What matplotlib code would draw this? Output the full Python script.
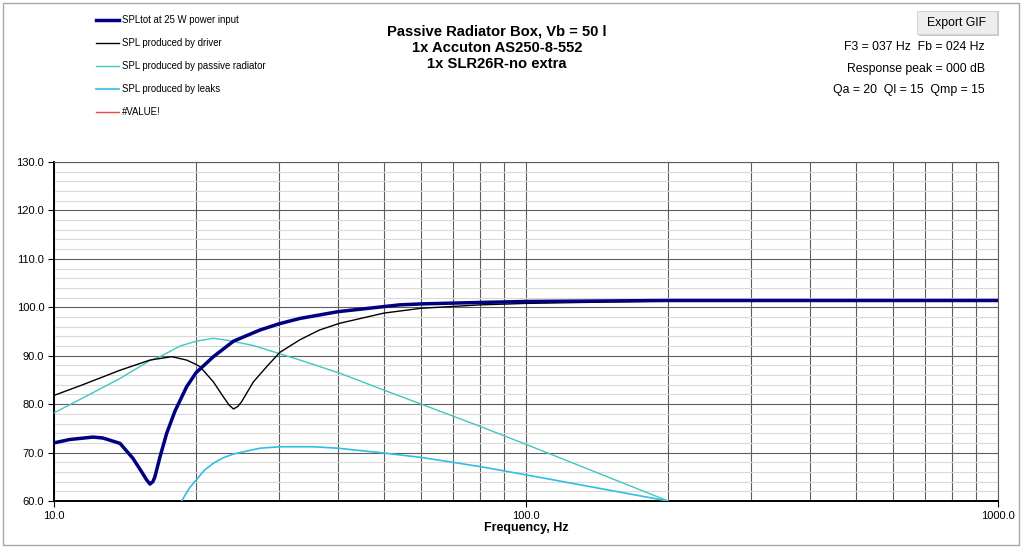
import numpy as np
import matplotlib
matplotlib.use("Agg")
import matplotlib.pyplot as plt
from matplotlib.lines import Line2D
from matplotlib.patches import Rectangle
from matplotlib.ticker import FixedLocator, MultipleLocator, NullFormatter, FormatStrFormatter

plt.rcParams['font.family'] = ['Liberation Sans', 'DejaVu Sans']

# SPL curves (frequency in Hz, level in dB)
tot_f = [10, 10.8, 12.1, 12.7, 13.8, 14.7, 15.34, 15.7, 15.97, 16.2, 16.36, 16.77, 17.33,
         18.05, 19.1, 20, 21.76, 24, 27.3, 30, 33.2, 40, 54, 60, 80, 100, 200, 500, 1000]
tot_db = [72.0, 72.7, 73.2, 73.0, 71.9, 68.8, 66.0, 64.4, 63.5, 64.0, 65.0, 69.1, 74.0,
          78.6, 83.6, 86.5, 89.8, 93.0, 95.3, 96.6, 97.7, 99.1, 100.5, 100.7, 101.0, 101.2,
          101.4, 101.4, 101.4]

drv_f = [10, 11.5, 13.8, 15.97, 17.75, 19.1, 20, 20.4, 21.76, 22.85, 23.5, 24.0, 24.5,
         24.97, 26.45, 28.2, 30.1, 33.2, 36.5, 40.3, 50, 60, 80, 100, 200, 500, 1000]
drv_db = [81.8, 84.0, 87.0, 89.1, 89.8, 89.1, 88.2, 87.7, 84.6, 81.5, 79.8, 79.0, 79.5,
          80.5, 84.6, 87.7, 90.7, 93.3, 95.3, 96.7, 98.8, 99.8, 100.5, 100.8, 101.3, 101.4,
          101.4]

pr_f = [10, 12, 13.8, 15.97, 16.77, 18.5, 20, 21.76, 23.6, 26.45, 30.1, 33.2, 40.3, 50,
        60, 80, 100, 200]
pr_db = [78.2, 82.2, 85.3, 89.0, 89.8, 92.0, 93.0, 93.6, 93.1, 92.1, 90.4, 89.1, 86.4, 82.9,
         80.0, 75.4, 71.7, 60.0]

leak_f = [18.65, 18.95, 19.4, 20, 20.8, 21.76, 22.8, 24, 27.3, 30.1, 35.5, 40, 50, 60, 80,
          100, 200]
leak_db = [60.0, 61.2, 62.8, 64.3, 66.3, 67.8, 68.9, 69.7, 70.9, 71.2, 71.2, 70.9, 69.9,
           69.0, 67.1, 65.4, 60.0]

labels = ["SPLtot at 25 W power input", "SPL produced by driver",
          "SPL produced by passive radiator", "SPL produced by leaks", "#VALUE!"]
colors = ["#000080", "#000000", "#3EC8C0", "#30BEE6", "#F04848"]
widths = [2.5, 1.0, 1.0, 1.2, 1.0]

title_lines = ["Passive Radiator Box, Vb = 50 l", "1x Accuton AS250-8-552", "1x SLR26R-no extra"]
info_lines = ["F3 = 037 Hz  Fb = 024 Hz", "Response peak = 000 dB", "Qa = 20  Ql = 15  Qmp = 15"]

W, H = 1024, 547


def fx(px):
    return px / W


def fy(py):
    return 1 - py / H


fig = plt.figure(figsize=(W / 100, H / 100), dpi=100)
ax = fig.add_axes([fx(54), fy(501), fx(998) - fx(54), fy(162) - fy(501)])

ax.plot(pr_f, pr_db, color=colors[2], lw=widths[2], zorder=3)
ax.plot(leak_f, leak_db, color=colors[3], lw=widths[3], zorder=3)
ax.plot(drv_f, drv_db, color=colors[1], lw=widths[1], zorder=4)
ax.plot(tot_f, tot_db, color=colors[0], lw=widths[0], zorder=5, solid_capstyle='round',
        solid_joinstyle='round')

ax.set_xscale('log')
ax.set_xlim(10, 1000)
ax.set_ylim(60, 130)
ax.xaxis.set_major_locator(FixedLocator([10, 100, 1000]))
ax.xaxis.set_minor_locator(FixedLocator([20, 30, 40, 50, 60, 70, 80, 90,
                                         200, 300, 400, 500, 600, 700, 800, 900]))
ax.xaxis.set_major_formatter(FormatStrFormatter('%.1f'))
ax.xaxis.set_minor_formatter(NullFormatter())
ax.yaxis.set_major_locator(MultipleLocator(10))
ax.yaxis.set_minor_locator(MultipleLocator(2))
ax.yaxis.set_major_formatter(FormatStrFormatter('%.1f'))

ax.grid(which='major', axis='both', color='#5E5E5E', lw=0.8)
ax.grid(which='minor', axis='x', color='#5E5E5E', lw=0.8)
ax.grid(which='minor', axis='y', color='#D9D9D9', lw=0.8)
ax.set_axisbelow(True)

ax.tick_params(which='major', direction='out', length=4, width=0.8, labelsize=8, pad=3)
ax.tick_params(which='minor', length=0)
ax.tick_params(axis='x', which='major', pad=3)
for s in ['top', 'right']:
    ax.spines[s].set_color('#5E5E5E')
    ax.spines[s].set_linewidth(0.8)
for s in ['left', 'bottom']:
    ax.spines[s].set_color('black')
    ax.spines[s].set_linewidth(1.4)

ax.set_xlabel("Frequency, Hz", fontsize=9, fontweight='bold', labelpad=1)

# titles
for i, t in enumerate(title_lines):
    fig.text(fx(497), fy(31 + i * 16.7), t, ha='center', va='center',
             fontsize=10.6, fontweight='bold')

# info text on the right
for t, yy in zip(info_lines, [47, 69, 90]):
    fig.text(fx(985), fy(yy), t, ha='right', va='center', fontsize=8.8)

# export button
fig.add_artist(Rectangle((fx(919), fy(36)), fx(80), fy(11) - fy(36), transform=fig.transFigure,
                         facecolor='#C8C8C8', edgecolor='none'))
fig.add_artist(Rectangle((fx(917), fy(34)), fx(80), fy(11) - fy(34), transform=fig.transFigure,
                         facecolor='#EDEDED', edgecolor='#D0D0D0', lw=0.6))
fig.text(fx(957), fy(23), "Export GIF", ha='center', va='center', fontsize=8.8)

# legend
for i, (lab, c, w) in enumerate(zip(labels, colors, widths)):
    yy = 20 + i * 23.1
    fig.add_artist(Line2D([fx(96), fx(119)], [fy(yy), fy(yy)], transform=fig.transFigure,
                          color=c, lw=w))
    fig.text(fx(122), fy(yy), lab, ha='left', va='center', fontsize=6.9)

# outer chart frame
fig.add_artist(Rectangle((fx(3), fy(545)), fx(1016), fy(3) - fy(545), transform=fig.transFigure,
                         facecolor='none', edgecolor='#A8A8A8', lw=1.0))

fig.savefig("out.png", dpi=100)
